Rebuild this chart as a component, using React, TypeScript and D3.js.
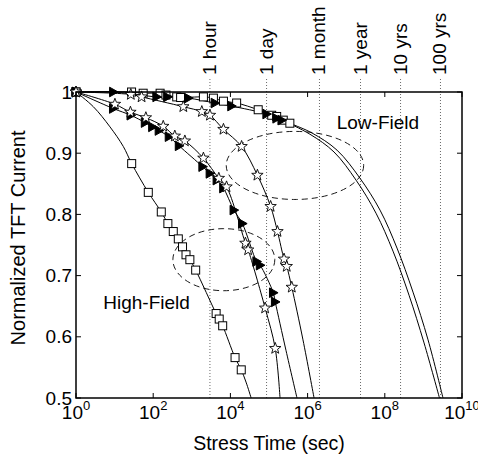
import React from "react";
import * as d3 from "d3";

// ---------- data ----------
// Low-field, squares
const lfSqT = [1, 27.5, 55, 151, 214, 407, 513, 2000, 3630, 6610, 14500, 52500, 117500, 158000, 234000, 347000];
const lfSqV = [1.0, 1.0, 0.998, 0.998, 0.995, 0.992, 0.991, 0.992, 0.99, 0.985, 0.982, 0.971, 0.962, 0.96, 0.954, 0.949];
const lfSqFitT = [1.3e6, 5.78e6, 2.28e7, 7.52e7, 2.07e8, 5.38e8, 1.32e9, 3.22e9];
const lfSqFitV = [0.933, 0.905, 0.859, 0.807, 0.745, 0.673, 0.595, 0.5];
// Low-field, triangles
const lfTrT = [1, 9.3, 123, 234, 813, 3980, 10700, 87000, 158000, 214000];
const lfTrV = [1.0, 1.0, 0.992, 0.992, 0.99, 0.982, 0.977, 0.964, 0.957, 0.954];
const lfTrFitT = [1.15e6, 4.83e6, 1.8e7, 5.92e7, 1.63e8, 4.24e8, 1.04e9, 2.61e9];
const lfTrFitV = [0.931, 0.902, 0.856, 0.802, 0.74, 0.668, 0.59, 0.5];
// Low-field, stars
const lfStT = [1, 26.3, 50, 603, 1820, 2950, 6610, 19500, 50100, 110000, 166000, 245000, 288000, 389000];
const lfStV = [1.0, 0.996, 0.992, 0.976, 0.968, 0.962, 0.939, 0.911, 0.864, 0.813, 0.772, 0.727, 0.715, 0.681];
const lfStFitT = [759000, 1.47e6];
const lfStFitV = [0.595, 0.5];
// High-field, squares
const hfSqT = [1, 27.7, 74.6, 162, 240, 331, 447, 575, 708, 891, 1260, 4270, 5130, 6310, 13200, 19100];
const hfSqV = [1.0, 0.883, 0.836, 0.804, 0.785, 0.772, 0.76, 0.747, 0.734, 0.726, 0.709, 0.638, 0.629, 0.618, 0.566, 0.546];
const hfSqFitT = [2.81, 7.6, 16.8, 25400, 34500];
const hfSqFitV = [0.976, 0.943, 0.911, 0.526, 0.5];
// High-field, triangles
const hfTrT = [1, 9.25, 26.3, 61.7, 95.5, 141, 257, 468, 1910, 2950, 4470, 6610, 12300, 20400, 47900, 58900, 129000, 145000];
const hfTrV = [1.0, 0.973, 0.962, 0.95, 0.943, 0.937, 0.927, 0.912, 0.878, 0.867, 0.856, 0.843, 0.807, 0.785, 0.723, 0.717, 0.672, 0.657];
const hfTrFitT = [275000, 531000];
const hfTrFitV = [0.578, 0.5];
// High-field, stars
const hfStT = [1, 10.2, 25.7, 64.6, 182, 363, 661, 2000, 5010, 7940, 24500, 28800, 79400, 145000];
const hfStV = [1.0, 0.98, 0.967, 0.958, 0.944, 0.928, 0.92, 0.892, 0.859, 0.845, 0.753, 0.742, 0.647, 0.581];
const hfStFitT = [193000];
const hfStFitV = [0.5];

// time reference lines
const refTimes = [2950, 86400, 2.03e6, 2.35e7, 2.56e8, 2.77e9];
const refLabels = ["1 hour", "1 day", "1 month", "1 year", "10 yrs", "100 yrs"];

// axis ticks
const xTickExps = [0, 2, 4, 6, 8, 10];
const yTicks = [0.5, 0.6, 0.7, 0.8, 0.9, 1];
const yTickLabels = ["0.5", "0.6", "0.7", "0.8", "0.9", "1"];

// group ellipses: center time, center value, half-width (decades), half-height (value)
const ellipseCx = [4.7e5, 6760];
const ellipseCy = [0.88, 0.726];
const ellipseRxDec = [1.78, 1.32];
const ellipseRy = [0.0556, 0.0507];
const groupLabels = ["Low-Field", "High-Field"];
const groupLabelT = [5.68e6, 5.1];
const groupLabelV = [0.94, 0.645];

type Pt = [number, number];
const zip = (t: number[], v: number[]): Pt[] => t.map((d, i) => [d, v[i]] as Pt);

const series = [
  { m: zip(lfSqT, lfSqV), f: zip(lfSqFitT, lfSqFitV), sym: "square" },
  { m: zip(lfTrT, lfTrV), f: zip(lfTrFitT, lfTrFitV), sym: "triangle" },
  { m: zip(lfStT, lfStV), f: zip(lfStFitT, lfStFitV), sym: "star" },
  { m: zip(hfSqT, hfSqV), f: zip(hfSqFitT, hfSqFitV), sym: "square" },
  { m: zip(hfTrT, hfTrV), f: zip(hfTrFitT, hfTrFitV), sym: "triangle" },
  { m: zip(hfStT, hfStV), f: zip(hfStFitT, hfStFitV), sym: "star" },
];

const FONT = "'Liberation Sans', Arial, Helvetica, sans-serif";

function starPath(r1: number, r2: number) {
  const pts: string[] = [];
  for (let i = 0; i < 10; i++) {
    const a = -Math.PI / 2 + (i * Math.PI) / 5;
    const r = i % 2 === 0 ? r1 : r2;
    pts.push(`${(r * Math.cos(a)).toFixed(2)},${(r * Math.sin(a)).toFixed(2)}`);
  }
  return "M" + pts.join("L") + "Z";
}
const STAR = starPath(6, 2.5);
const TRI = "M-3.8,-4.8L4.8,0L-3.8,4.8Z";

export default function App() {
  const L = 76, R = 462, T = 92, B = 398;
  const x = d3.scaleLog().domain([1, 1e10]).range([L, R]);
  const y = d3.scaleLinear().domain([0.5, 1]).range([B, T]);
  const pxPerDec = (R - L) / 10;
  const line = d3
    .line<Pt>()
    .x((d) => x(d[0]))
    .y((d) => y(d[1]))
    .curve(d3.curveCatmullRom.alpha(0.5));

  const marker = (sym: string, px: number, py: number, k: string) => {
    if (sym === "square")
      return <rect key={k} x={px - 4} y={py - 4} width={8} height={8} fill="white" stroke="black" strokeWidth={1} />;
    if (sym === "triangle")
      return <path key={k} d={TRI} transform={`translate(${px},${py})`} fill="black" stroke="black" strokeWidth={1} />;
    return <path key={k} d={STAR} transform={`translate(${px},${py})`} fill="white" stroke="black" strokeWidth={0.9} />;
  };

  return (
    <svg
      width={478}
      height={458}
      style={{ position: "absolute", left: 0, top: 0, background: "white" }}
      fontFamily={FONT}
    >
      <rect x={0} y={0} width={478} height={458} fill="white" />
      <defs>
        <clipPath id="plotclip">
          <rect x={L} y={T - 2} width={R - L} height={B - T + 2} />
        </clipPath>
      </defs>

      {/* reference time lines */}
      {refTimes.map((t, i) => (
        <g key={"ref" + i}>
          <line x1={x(t)} x2={x(t)} y1={79} y2={B} stroke="#444" strokeWidth={0.8} strokeDasharray="1 2" />
          <text
            transform={`translate(${x(t) + 6},${75}) rotate(-90)`}
            fontSize={19}
            textAnchor="start"
          >
            {refLabels[i]}
          </text>
        </g>
      ))}

      {/* ellipses */}
      {ellipseCx.map((c, i) => (
        <ellipse
          key={"el" + i}
          cx={x(c)}
          cy={y(ellipseCy[i])}
          rx={ellipseRxDec[i] * pxPerDec}
          ry={y(0.5) - y(0.5 + ellipseRy[i])}
          fill="none"
          stroke="black"
          strokeWidth={0.9}
          strokeDasharray="6 4"
        />
      ))}

      {/* curves */}
      <g clipPath="url(#plotclip)">
        {series.map((s, i) => {
          const pts = [...s.m, ...s.f].sort((a, b) => a[0] - b[0]);
          return <path key={"ln" + i} d={line(pts) || ""} fill="none" stroke="black" strokeWidth={1} />;
        })}
      </g>

      {/* markers */}
      {series.map((s, i) => (
        <g key={"mk" + i}>{s.m.map((d, j) => marker(s.sym, x(d[0]), y(d[1]), i + "-" + j))}</g>
      ))}

      {/* group labels */}
      {groupLabels.map((g, i) => (
        <text key={"gl" + i} x={x(groupLabelT[i])} y={y(groupLabelV[i])} fontSize={19}>
          {g}
        </text>
      ))}

      {/* axes box */}
      <rect x={L} y={T} width={R - L} height={B - T} fill="none" stroke="black" strokeWidth={1.5} />

      {/* x ticks */}
      {xTickExps.map((e) => {
        const px = x(Math.pow(10, e));
        return (
          <g key={"xt" + e}>
            <line x1={px} x2={px} y1={B} y2={B - 5} stroke="black" strokeWidth={1} />
            <line x1={px} x2={px} y1={T} y2={T + 5} stroke="black" strokeWidth={1} />
            <text x={px} y={419} fontSize={19} textAnchor="middle">
              10
              <tspan dy={-9} fontSize={13}>
                {e}
              </tspan>
            </text>
          </g>
        );
      })}

      {/* y ticks */}
      {yTicks.map((v, i) => (
        <g key={"yt" + i}>
          <line x1={L} x2={L + 5} y1={y(v)} y2={y(v)} stroke="black" strokeWidth={1} />
          <line x1={R} x2={R - 5} y1={y(v)} y2={y(v)} stroke="black" strokeWidth={1} />
          <text x={72} y={y(v)} dy="0.35em" fontSize={19} textAnchor="end">
            {yTickLabels[i]}
          </text>
        </g>
      ))}

      {/* axis titles */}
      <text x={(L + R) / 2} y={450} fontSize={19.5} textAnchor="middle">
        Stress Time (sec)
      </text>
      <text transform={`translate(25,238) rotate(-90)`} fontSize={20} textAnchor="middle">
        Normalized TFT Current
      </text>
    </svg>
  );
}
